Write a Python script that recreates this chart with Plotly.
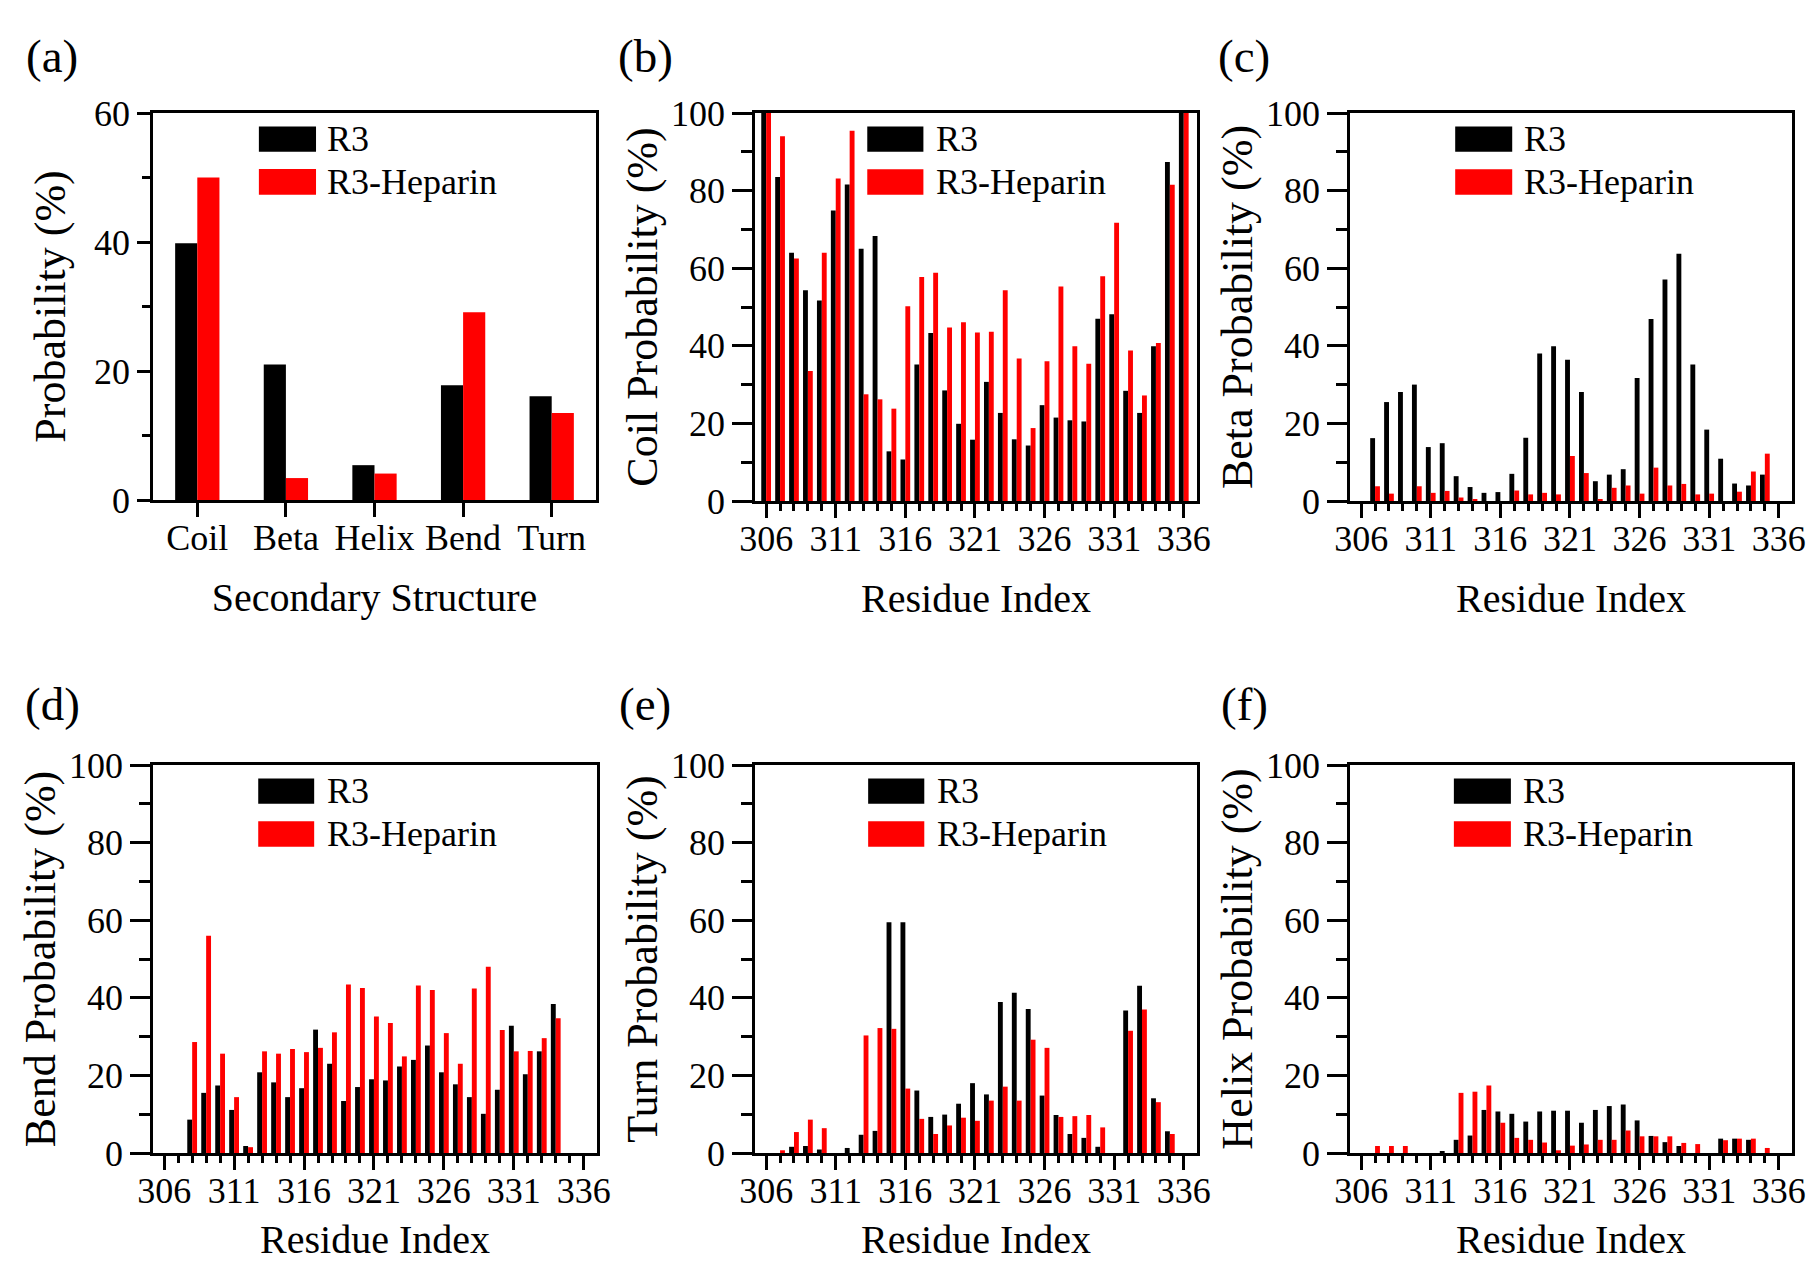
import plotly.graph_objects as go

# ---------------- data ----------------
categories = ["Coil", "Beta", "Helix", "Bend", "Turn"]
overall_r3 = [39.8, 21.0, 5.4, 17.8, 16.1]
overall_hep = [50.0, 3.4, 4.1, 29.1, 13.5]

residues = [306, 307, 308, 309, 310, 311, 312, 313, 314, 315, 316, 317, 318, 319, 320, 321,
            322, 323, 324, 325, 326, 327, 328, 329, 330, 331, 332, 333, 334, 335, 336]
residue_ticks = [306, 311, 316, 321, 326, 331, 336]

coil_r3 = [100, 83.5, 64.0, 54.3, 51.7, 74.9, 81.6, 65.0, 68.3, 12.8, 10.7, 35.2, 43.3, 28.5, 19.9, 15.8,
           30.7, 22.7, 15.9, 14.3, 24.7, 21.5, 20.8, 20.5, 47.0, 48.1, 28.4, 22.7, 39.9, 87.4, 100]
coil_hep = [100, 94.0, 62.5, 33.5, 64.0, 83.1, 95.4, 27.5, 26.2, 23.8, 50.2, 57.7, 58.8, 44.7, 46.1, 43.4,
            43.6, 54.3, 36.7, 18.8, 36.0, 55.3, 39.9, 35.4, 57.9, 71.7, 38.8, 27.2, 40.7, 81.5, 100]

beta_r3 = [0, 16.2, 25.5, 28.1, 30.0, 13.9, 14.9, 6.4, 3.6, 2.1, 2.3, 7.0, 16.3, 38.0, 39.9, 36.4,
           28.1, 5.1, 6.8, 8.2, 31.7, 46.9, 57.1, 63.7, 35.2, 18.4, 10.9, 4.5, 4.0, 6.8, 0]
beta_hep = [0, 3.8, 1.9, 0, 3.8, 2.1, 2.6, 0.9, 0.5, 0, 0, 2.7, 1.7, 2.1, 1.7, 11.6,
            7.2, 0.5, 3.4, 4.0, 1.9, 8.6, 4.0, 4.4, 1.7, 1.9, 0, 2.4, 7.6, 12.2, 0]

bend_r3 = [0, 0, 8.6, 15.5, 17.4, 11.1, 1.8, 20.8, 18.2, 14.4, 16.7, 31.8, 23.0, 13.4, 17.0, 19.0,
           18.7, 22.3, 24.0, 27.7, 20.8, 17.7, 14.4, 10.1, 16.3, 32.8, 20.3, 26.2, 38.4, 0, 0]
bend_hep = [0, 0, 28.6, 56.0, 25.6, 14.4, 1.5, 26.2, 25.6, 26.8, 26.0, 27.1, 31.1, 43.4, 42.5, 35.2,
            33.5, 24.9, 43.2, 42.0, 30.9, 23.0, 42.4, 48.0, 31.7, 26.2, 26.3, 29.6, 34.7, 0, 0]

turn_r3 = [0, 0, 1.6, 1.8, 0.9, 0, 1.3, 4.7, 5.7, 59.5, 59.5, 16.1, 9.3, 9.9, 12.7, 18.0,
           15.1, 38.9, 41.3, 37.1, 14.8, 9.8, 4.9, 3.9, 1.6, 0, 36.7, 43.1, 14.1, 5.6, 0]
turn_hep = [0, 0.7, 5.4, 8.6, 6.4, 0, 0, 30.3, 32.2, 32.0, 16.6, 8.8, 4.9, 7.1, 9.1, 8.3,
            13.5, 17.1, 13.5, 29.2, 27.1, 9.3, 9.5, 9.8, 6.6, 0, 31.5, 37.0, 13.1, 4.9, 0]

helix_r3 = [0, 0, 0, 0, 0, 0, 0.5, 3.4, 4.5, 11.1, 10.7, 10.1, 8.1, 10.7, 10.9, 10.9,
            7.8, 11.1, 12.1, 12.5, 8.4, 4.4, 2.8, 1.8, 0, 0, 3.7, 3.7, 3.4, 0, 0]
helix_hep = [0, 1.8, 1.8, 1.8, 0, 0, 0, 15.5, 15.8, 17.4, 7.8, 3.9, 3.4, 2.7, 0.7, 1.9,
             2.2, 3.4, 3.4, 5.8, 4.3, 4.3, 4.3, 2.6, 2.3, 0, 3.3, 3.7, 3.7, 1.3, 0]

series_names = ["R3", "R3-Heparin"]

# ---------------- style ----------------
PAGE_W, PAGE_H = 1815, 1270
OFF = 8  # default page body margin around the figure
W, H = PAGE_W - 2 * OFF, PAGE_H - 2 * OFF
FONT = "Liberation Serif, Times New Roman, serif"
BLACK = "#000000"
RED = "#ff0000"
TICK_FS = 36
XTITLE_FS = 40
YTITLE_FS = 44
LEG_FS = 36
LABEL_FS = 47


def xdom(a, b):
    return [(a - OFF) / W, (b - OFF) / W]


def ydom(top, bottom):
    return [1 - (bottom - OFF) / H, 1 - (top - OFF) / H]


panels = [
    dict(label="(a)", lx=52, ly=56, xd=(153, 596), yd=(113, 500), x=categories, r3=overall_r3, hep=overall_hep,
         ytitle="Probability (%)", xtitle="Secondary Structure", ymax=60, cat=True, leg=(0.239, 0.368, 0.389),
         ystand=15, yticklen=13, yminorlen=8),
    dict(label="(b)", lx=645, ly=56, xd=(755, 1197), yd=(113, 501), x=residues, r3=coil_r3, hep=coil_hep,
         ytitle="Coil Probability (%)", xtitle="Residue Index", ymax=100, cat=False, leg=(0.254, 0.381, 0.405),
         ystand=0, yticklen=20, yminorlen=11),
    dict(label="(c)", lx=1244, ly=56, xd=(1350, 1792), yd=(113, 501), x=residues, r3=beta_r3, hep=beta_hep,
         ytitle="Beta Probability (%)", xtitle="Residue Index", ymax=100, cat=False, leg=(0.238, 0.367, 0.39),
         ystand=0, yticklen=20, yminorlen=11),
    dict(label="(d)", lx=52, ly=704, xd=(153, 597), yd=(765, 1153), x=residues, r3=bend_r3, hep=bend_hep,
         ytitle="Bend Probability (%)", xtitle="Residue Index", ymax=100, cat=False, leg=(0.237, 0.363, 0.388),
         ystand=0, yticklen=20, yminorlen=11),
    dict(label="(e)", lx=645, ly=704, xd=(755, 1197), yd=(765, 1153), x=residues, r3=turn_r3, hep=turn_hep,
         ytitle="Turn Probability (%)", xtitle="Residue Index", ymax=100, cat=False, leg=(0.256, 0.383, 0.408),
         ystand=0, yticklen=20, yminorlen=11),
    dict(label="(f)", lx=1244, ly=704, xd=(1350, 1792), yd=(765, 1153), x=residues, r3=helix_r3, hep=helix_hep,
         ytitle="Helix Probability (%)", xtitle="Residue Index", ymax=100, cat=False, leg=(0.235, 0.364, 0.388),
         ystand=0, yticklen=20, yminorlen=11),
]

fig = go.Figure()
layout = {}
shapes = []
annotations = []

for i, p in enumerate(panels):
    n = "" if i == 0 else str(i + 1)
    xname, yname = "x" + n, "y" + n
    bw = 0.25 if p["cat"] else 0.35
    fig.add_trace(go.Bar(x=p["x"], y=p["r3"], xaxis=xname, yaxis=yname, width=bw, offset=-bw,
                         marker=dict(color=BLACK, line=dict(width=0)), name=series_names[0], showlegend=False))
    fig.add_trace(go.Bar(x=p["x"], y=p["hep"], xaxis=xname, yaxis=yname, width=bw, offset=0,
                         marker=dict(color=RED, line=dict(width=0)), name=series_names[1], showlegend=False))

    common = dict(showline=True, linewidth=2.5, linecolor="black", mirror=True, ticks="outside",
                  tickwidth=2.5, tickcolor="black", showgrid=False, zeroline=False, automargin=False,
                  tickfont=dict(family=FONT, size=TICK_FS, color="black"))
    xa = dict(common, domain=xdom(*p["xd"]), anchor=yname, ticklabelstandoff=-10,
              title=dict(text=p["xtitle"], font=dict(family=FONT, size=XTITLE_FS, color="black"), standoff=27))
    if p["cat"]:
        xa.update(type="category", categoryorder="array", categoryarray=categories,
                  range=[-0.5, len(categories) - 0.5], ticklen=14)
    else:
        xa.update(range=[305.2, 336.95], tickmode="array", tickvals=residue_ticks, ticklen=14,
                  minor=dict(dtick=1, tick0=306, ticklen=7, ticks="outside", tickwidth=2.5, tickcolor="black",
                             showgrid=False))
    ya = dict(common, domain=ydom(*p["yd"]), anchor=xname, range=[0, p["ymax"]], tick0=0, dtick=20,
              ticklen=p["yticklen"],
              minor=dict(dtick=10, tick0=0, ticklen=p["yminorlen"], ticks="outside", tickwidth=2.5,
                         tickcolor="black", showgrid=False),
              title=dict(text=p["ytitle"], font=dict(family=FONT, size=YTITLE_FS, color="black"),
                         standoff=p["ystand"]))
    layout["xaxis" + n] = xa
    layout["yaxis" + n] = ya

    # legend drawn inside each panel
    sx0, sx1, tx = p["leg"]
    xref = xname + " domain"
    yref = yname + " domain"
    rows = [(0.900, 0.965, BLACK, series_names[0]), (0.789, 0.855, RED, series_names[1])]
    for y0, y1, col, txt in rows:
        shapes.append(dict(type="rect", xref=xref, yref=yref, x0=sx0, x1=sx1, y0=y0, y1=y1,
                           fillcolor=col, line=dict(width=0)))
        annotations.append(dict(xref=xref, yref=yref, x=tx, y=(y0 + y1) / 2, text=txt, showarrow=False,
                                xanchor="left", yanchor="middle",
                                font=dict(family=FONT, size=LEG_FS, color="black")))
    annotations.append(dict(xref="paper", yref="paper", x=(p["lx"] - OFF) / W, y=1 - (p["ly"] - OFF) / H,
                            text=p["label"], showarrow=False, xanchor="center", yanchor="middle",
                            font=dict(family=FONT, size=LABEL_FS, color="black")))

fig.update_layout(**layout)
fig.update_layout(width=W, height=H, margin=dict(l=0, r=0, t=0, b=0, autoexpand=False), plot_bgcolor="white",
                  paper_bgcolor="white", barmode="group", showlegend=False,
                  shapes=shapes, annotations=annotations, font=dict(family=FONT, color="black"))

fig.write_html("out.html")
